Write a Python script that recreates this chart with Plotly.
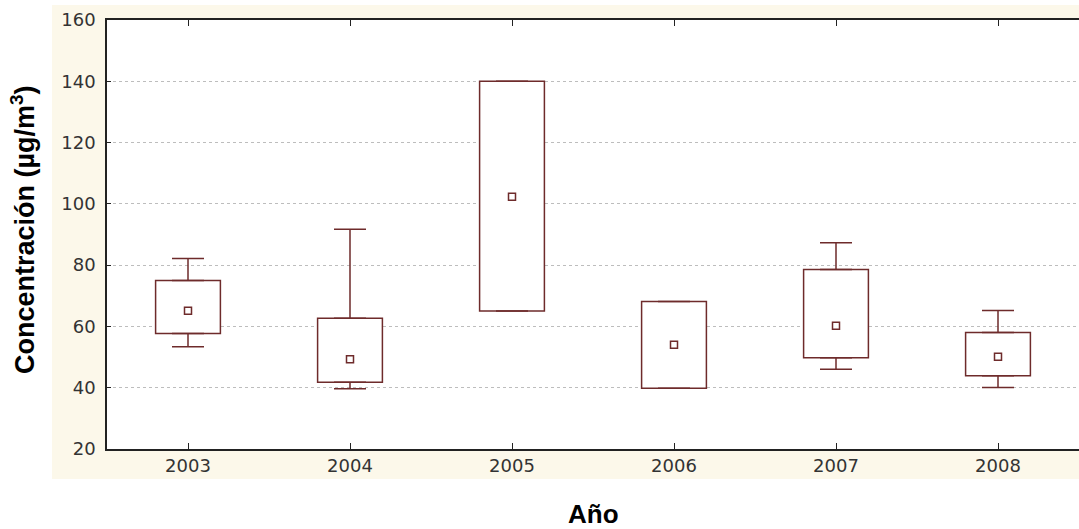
import plotly.graph_objects as go

# Annual concentration summary per year
years = ["2003", "2004", "2005", "2006", "2007", "2008"]
whisker_low = [53.4, 39.7, 65.0, 39.8, 46.0, 40.1]
box_low = [57.7, 41.8, 65.0, 39.8, 49.8, 43.9]
box_high = [75.0, 62.7, 140.0, 68.1, 78.6, 58.0]
whisker_high = [82.2, 91.7, 140.0, 68.1, 87.3, 65.2]
means = [65.1, 49.3, 102.3, 54.0, 60.2, 50.1]

y_ticks = [20, 40, 60, 80, 100, 120, 140, 160]

line_col = "#6e2b2b"
W, H = 1079, 529
ml, mr, mt, mb = 107, 0, 20, 80

box_span = [hi - lo for lo, hi in zip(box_low, box_high)]
up_len = [w - hi for hi, w in zip(box_high, whisker_high)]
down_len = [lo - w for lo, w in zip(box_low, whisker_low)]
zeros = [0] * len(years)

fig = go.Figure()

# boxes: interquartile span drawn as floating bars
fig.add_trace(go.Bar(
    x=years, y=box_span, base=box_low, width=0.4,
    marker=dict(color="white", line=dict(color=line_col, width=1.5)),
    hoverinfo="skip", showlegend=False,
))

# upper whiskers with caps
fig.add_trace(go.Scatter(
    x=years, y=box_high, mode="markers",
    marker=dict(size=1, color="rgba(0,0,0,0)"),
    error_y=dict(type="data", symmetric=False, array=up_len, arrayminus=zeros,
                 color=line_col, thickness=1.5, width=16),
    hoverinfo="skip", showlegend=False,
))
# lower whiskers with caps
fig.add_trace(go.Scatter(
    x=years, y=box_low, mode="markers",
    marker=dict(size=1, color="rgba(0,0,0,0)"),
    error_y=dict(type="data", symmetric=False, array=zeros, arrayminus=down_len,
                 color=line_col, thickness=1.5, width=16),
    hoverinfo="skip", showlegend=False,
))

# mean markers
fig.add_trace(go.Scatter(
    x=years, y=means, mode="markers",
    marker=dict(symbol="square-open", size=7, color=line_col,
                line=dict(width=1.5, color=line_col)),
    showlegend=False,
))

# cream panel behind the plot, in paper units
pw = W - ml - mr
ph = H - mt - mb
fig.add_shape(
    type="rect", xref="paper", yref="paper", layer="below",
    x0=(52 - ml) / pw, x1=1.02, y0=(H - mb - 479) / ph, y1=1 + (mt - 5) / ph,
    fillcolor="#fcf8ea", line=dict(width=0),
)
# white plotting area
fig.add_shape(
    type="rect", xref="paper", yref="paper", layer="below",
    x0=0, x1=1, y0=0, y1=1,
    fillcolor="white", line=dict(width=0),
)

fig.add_annotation(
    text="Concentración (µg/m<sup>3</sup>)", textangle=-90,
    xref="paper", yref="paper",
    x=(23 - ml) / pw, y=(H - mb - 230) / ph,
    showarrow=False, xanchor="center", yanchor="middle",
    font=dict(family="Liberation Sans, Arial", size=27, color="black", weight="bold"),
)
fig.add_annotation(
    text="Año",
    xref="paper", yref="paper",
    x=0.5, y=-(514 - (H - mb)) / ph,
    showarrow=False, xanchor="center", yanchor="middle",
    font=dict(family="Liberation Sans, Arial", size=26, color="black", weight="bold"),
)

tick_font = dict(family="DejaVu Sans", size=18, color="#333333")

fig.update_layout(
    width=W, height=H,
    margin=dict(l=ml, r=mr, t=mt, b=mb),
    paper_bgcolor="white",
    plot_bgcolor="rgba(0,0,0,0)",
    bargap=0.6,
    xaxis=dict(
        type="category", range=[-0.5, 5.5],
        showline=True, linecolor="#222222", linewidth=1.5, mirror="ticks",
        ticks="inside", ticklen=6, tickcolor="#222222",
        showgrid=False, tickfont=tick_font, zeroline=False,
    ),
    yaxis=dict(
        range=[20, 160], tickvals=y_ticks,
        showline=True, linecolor="#222222", linewidth=1.5,
        ticks="inside", ticklen=4, tickcolor="#222222",
        showgrid=True, gridcolor="#bdbdbd", griddash="dot", gridwidth=1,
        tickfont=tick_font, zeroline=False, ticklabelstandoff=6,
    ),
)

fig.write_html("out.html")
